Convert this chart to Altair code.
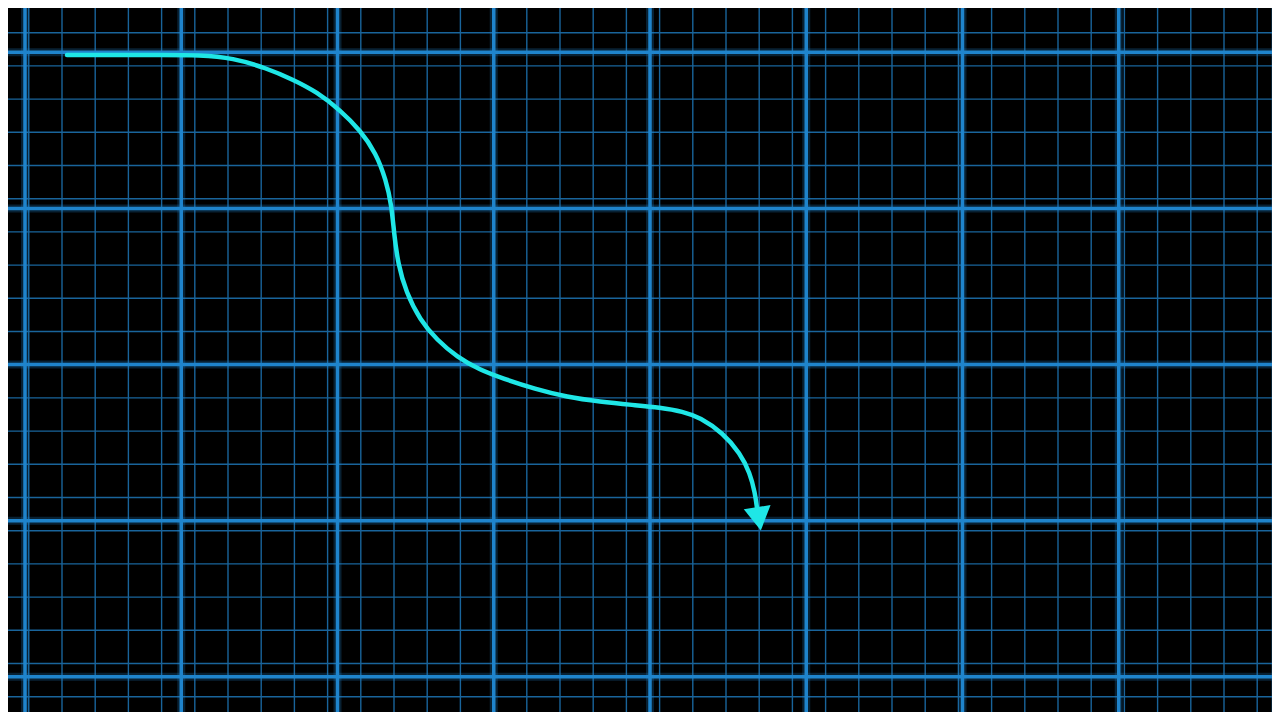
import pandas as pd
import altair as alt

# grid positions, in the picture's own 1280 x 720 units
minor_x = [28.8, 62, 95.2, 128.4, 161.6, 194.8, 228, 261.2, 294.4, 327.6, 360.8,
           394, 427.2, 460.4, 493.6, 526.8, 560, 593.2, 626.4, 659.6, 692.8, 726,
           759.2, 792.4, 825.6, 858.8, 892, 925.2, 958.4, 991.6, 1024.8, 1058,
           1091.2, 1124.4, 1157.6, 1190.8, 1224, 1257.2]
minor_y = [32.7, 65.9, 99.1, 132.3, 165.5, 198.7, 231.9, 265.1, 298.3, 331.5,
           364.7, 397.9, 431.1, 464.3, 497.5, 530.7, 563.9, 597.1, 630.3, 663.5,
           696.7]
major_x = [25, 181.25, 337.5, 493.75, 650, 806.25, 962.5, 1118.75, 1275]
major_y = [52.2, 208.4, 364.5, 520.7, 676.8]

# the arrow path
path_x = [67, 120, 160, 200, 233, 266, 293, 317, 340, 360, 376, 386, 391.5, 394,
          398, 406, 420, 437, 457, 480, 503, 535, 567, 600, 633, 660, 683, 700,
          723, 740, 750, 755, 757]
path_y = [55, 55, 55, 55, 58, 68, 79.5, 92, 110, 130, 153, 180, 205, 233,
          264, 292, 320, 340, 357, 370, 378.5, 389, 397, 401.7, 405, 407.5,
          411.5, 417.5, 433, 453, 473, 493, 508]
tip_x = [759]
tip_y = [518.8]

x_scale = alt.Scale(domain=[8, 1272], nice=False, zero=False)
y_scale = alt.Scale(domain=[8, 712], nice=False, zero=False, reverse=True)

MINOR = '#19649b'
MAJOR = '#1f84cc'
CYAN = '#1fe6e6'

minor_v = alt.Chart(pd.DataFrame({'x': minor_x})).mark_rule(
    color=MINOR, strokeWidth=1.4, clip=True
).encode(x=alt.X('x:Q', scale=x_scale, axis=None))

minor_h = alt.Chart(pd.DataFrame({'y': minor_y})).mark_rule(
    color=MINOR, strokeWidth=1.4, clip=True
).encode(y=alt.Y('y:Q', scale=y_scale, axis=None))

# soft glow under the major lines
glow_v = alt.Chart(pd.DataFrame({'x': major_x})).mark_rule(
    color=MAJOR, strokeWidth=8, opacity=0.25, clip=True
).encode(x=alt.X('x:Q', scale=x_scale, axis=None))

glow_h = alt.Chart(pd.DataFrame({'y': major_y})).mark_rule(
    color=MAJOR, strokeWidth=8, opacity=0.25, clip=True
).encode(y=alt.Y('y:Q', scale=y_scale, axis=None))

major_v = alt.Chart(pd.DataFrame({'x': major_x})).mark_rule(
    color=MAJOR, strokeWidth=3.5, clip=True
).encode(x=alt.X('x:Q', scale=x_scale, axis=None))

major_h = alt.Chart(pd.DataFrame({'y': major_y})).mark_rule(
    color=MAJOR, strokeWidth=3.5, clip=True
).encode(y=alt.Y('y:Q', scale=y_scale, axis=None))

path_df = pd.DataFrame({'x': path_x, 'y': path_y, 'i': range(len(path_x))})
curve = alt.Chart(path_df).mark_line(
    color=CYAN, strokeWidth=4.5, interpolate='basis', strokeCap='round'
).encode(
    x=alt.X('x:Q', scale=x_scale, axis=None),
    y=alt.Y('y:Q', scale=y_scale, axis=None),
    order='i:O'
)

tip = alt.Chart(pd.DataFrame({'x': tip_x, 'y': tip_y})).mark_point(
    shape='triangle-down', size=735, angle=351, filled=True, color=CYAN, opacity=1
).encode(
    x=alt.X('x:Q', scale=x_scale, axis=None),
    y=alt.Y('y:Q', scale=y_scale, axis=None)
)

chart = alt.layer(
    minor_v, minor_h, glow_v, glow_h, major_v, major_h, curve, tip
).properties(
    width=1264,
    height=704,
    background='black',
    padding=0,
    autosize=alt.AutoSizeParams(type='none')
).configure_view(stroke=None)

chart.save("out.html", embed_options={"renderer": "svg", "actions": False})
